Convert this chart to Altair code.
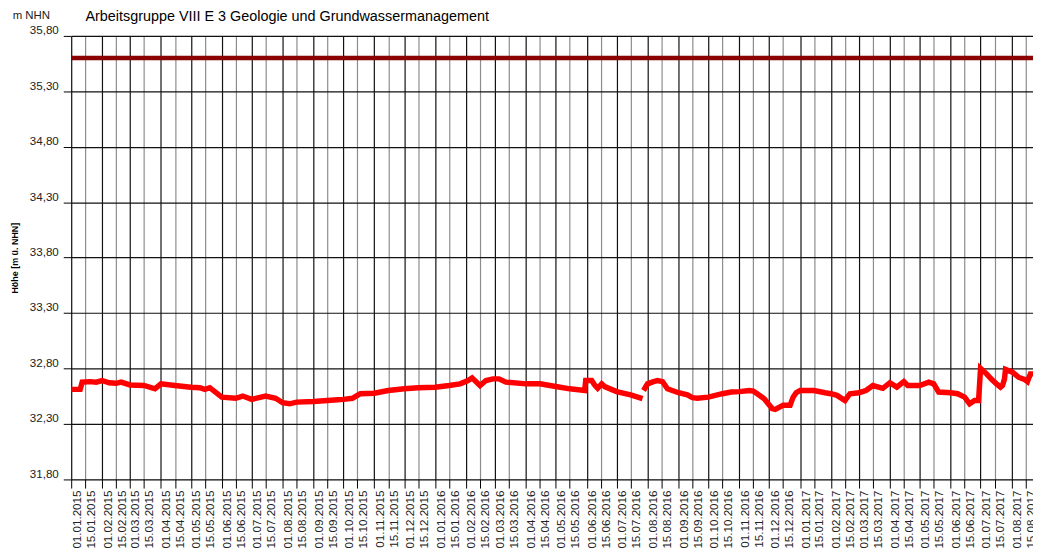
import altair as alt
import pandas as pd

# ---------------- data ----------------
dates_a = ["2015-01-01", "2015-01-10", "2015-01-12", "2015-01-20", "2015-01-26",
           "2015-02-01", "2015-02-08", "2015-02-15", "2015-02-20",
           "2015-03-01", "2015-03-15", "2015-03-26",
           "2015-04-01", "2015-04-15",
           "2015-05-01", "2015-05-10", "2015-05-15", "2015-05-20",
           "2015-06-01", "2015-06-15", "2015-06-22",
           "2015-07-01", "2015-07-15", "2015-07-25",
           "2015-08-01", "2015-08-08", "2015-08-15",
           "2015-09-01", "2015-09-15", "2015-09-25",
           "2015-10-01", "2015-10-10", "2015-10-15", "2015-10-18",
           "2015-11-01", "2015-11-15",
           "2015-12-01", "2015-12-15",
           "2016-01-01", "2016-01-15", "2016-01-26",
           "2016-02-03", "2016-02-07", "2016-02-15", "2016-02-21", "2016-02-28",
           "2016-03-05", "2016-03-12",
           "2016-04-01", "2016-04-15",
           "2016-05-01", "2016-05-15", "2016-05-30", "2016-05-31",
           "2016-06-06", "2016-06-09", "2016-06-12", "2016-06-16", "2016-06-19",
           "2016-07-01", "2016-07-15", "2016-07-27"]
values_a = [32.61, 32.61, 32.675, 32.68, 32.675,
            32.69, 32.67, 32.665, 32.675,
            32.65, 32.645, 32.615,
            32.66, 32.645,
            32.63, 32.625, 32.61, 32.625,
            32.54, 32.53, 32.55,
            32.52, 32.55, 32.53,
            32.49, 32.48, 32.495,
            32.50, 32.51, 32.517,
            32.52, 32.53, 32.556, 32.571,
            32.575, 32.60,
            32.615, 32.624,
            32.63, 32.645, 32.66,
            32.69, 32.714, 32.645, 32.69, 32.705,
            32.705, 32.675,
            32.66, 32.66,
            32.636, 32.615, 32.60, 32.69,
            32.69, 32.65, 32.62, 32.66, 32.635,
            32.59, 32.56, 32.526]

dates_b = ["2016-07-28", "2016-08-01", "2016-08-07", "2016-08-11", "2016-08-16", "2016-08-21",
           "2016-09-01", "2016-09-10", "2016-09-15", "2016-09-20",
           "2016-10-01", "2016-10-15", "2016-10-24",
           "2016-11-01", "2016-11-11", "2016-11-15", "2016-11-19", "2016-11-26",
           "2016-12-04", "2016-12-07", "2016-12-15", "2016-12-22", "2016-12-25", "2016-12-28",
           "2017-01-01", "2017-01-15", "2017-01-26",
           "2017-02-01", "2017-02-07", "2017-02-15", "2017-02-20",
           "2017-03-01", "2017-03-08", "2017-03-15", "2017-03-25",
           "2017-04-01", "2017-04-08", "2017-04-15", "2017-04-19",
           "2017-05-01", "2017-05-10", "2017-05-15", "2017-05-20",
           "2017-06-01", "2017-06-08", "2017-06-15", "2017-06-20", "2017-06-25", "2017-06-29",
           "2017-07-01", "2017-07-07", "2017-07-12", "2017-07-17", "2017-07-21", "2017-07-23",
           "2017-07-25", "2017-07-26",
           "2017-08-02", "2017-08-08", "2017-08-14", "2017-08-17", "2017-08-20", "2017-08-23"]
values_b = [32.60, 32.66, 32.68, 32.69, 32.68, 32.615,
            32.58, 32.56, 32.535, 32.53,
            32.54, 32.571, 32.586,
            32.59, 32.60, 32.595, 32.571, 32.526,
            32.437, 32.43, 32.467, 32.467, 32.54, 32.58,
            32.60, 32.60, 32.58,
            32.571, 32.556, 32.51, 32.571,
            32.58, 32.60, 32.645, 32.62,
            32.67, 32.63, 32.68, 32.645,
            32.645, 32.675, 32.66, 32.586,
            32.58, 32.571, 32.54, 32.48, 32.51, 32.51,
            32.80, 32.75, 32.70, 32.66, 32.63, 32.645,
            32.705, 32.79,
            32.765, 32.72, 32.70, 32.68, 32.75, 32.75]

threshold = [35.60]
y_ticks = [31.8, 32.3, 32.8, 33.3, 33.8, 34.3, 34.8, 35.3, 35.8]
tick_years = [2015, 2016, 2017]
tick_days = [1, 15]
last_tick = "2017-08-15"
x_start = "2015-01-01"
x_end = "2017-08-22T14:00:00"

title_text = "Arbeitsgruppe VIII E 3 Geologie und Grundwassermanagement"
unit_text = "m NHN"
y_title = "Höhe [m ü. NHN]"

# ---------------- build tables ----------------
df = pd.DataFrame({
    "datum": dates_a + dates_b,
    "wert": values_a + values_b,
    "abschnitt": ["a"] * len(dates_a) + ["b"] * len(dates_b),
})
df_thr = pd.DataFrame({"wert": threshold})
df_unit = pd.DataFrame({"t": [unit_text]})
df_title = pd.DataFrame({"t": [title_text]})


def ms(s):
    return int(pd.Timestamp(s, tz="UTC").value // 10**6)


tick_list = [f"{y}-{m:02d}-{d:02d}" for y in tick_years for m in range(1, 13)
             for d in tick_days if f"{y}-{m:02d}-{d:02d}" <= last_tick]
tick_ms = [ms(t) for t in tick_list]

FONT = "Liberation Sans"

x_scale = alt.Scale(type="utc", domain=[ms(x_start), ms(x_end)])
y_scale = alt.Scale(domain=[31.8, 35.8], nice=False, zero=False)

x_axis = alt.Axis(
    values=tick_ms,
    labelExpr="utcFormat(datum.value, '%d.%m.%Y')",
    labelAngle=270, labelAlign="right", labelBaseline="middle",
    labelOffset=5, labelPadding=2, labelFontSize=11.7, labelFont=FONT,
    labelColor="#222222", labelOverlap=False, labelFlush=False, labelBound=False,
    tickSize=9, tickColor="#000000", tickWidth=1,
    grid=True,
    gridColor={"condition": {"test": "utcdate(datum.value) === 1", "value": "#111111"},
               "value": "#8c8c8c"},
    gridWidth=1.2, gridOpacity=1,
    domain=False, title=None,
)

y_axis = alt.Axis(
    values=y_ticks,
    labelExpr="replace(format(datum.value, '.2f'), '.', ',')",
    tickSize=8, tickColor="#000000", tickWidth=1,
    labelPadding=5, labelBaseline="bottom", labelFontSize=11.7, labelFont=FONT,
    labelColor="#222222", labelFlush=False, labelOverlap=False,
    grid=True, gridColor="#111111", gridWidth=1.2, gridOpacity=1,
    domain=False,
    titleFont=FONT, titleFontSize=9, titleFontWeight="bold", titleColor="#000000",
    titleX=-56.7, titleY=223.5, titleAngle=270, titleAlign="center", titleBaseline="middle",
)


def y_enc(field):
    return alt.Y(field, type="quantitative", scale=y_scale, axis=y_axis, title=y_title)


line = alt.Chart(df).mark_line(color="#ff0000", strokeWidth=5.5, clip=True).encode(
    x=alt.X("datum:T", scale=x_scale, axis=x_axis, title=None),
    y=y_enc("wert"),
    detail="abschnitt:N",
)

thr = alt.Chart(df_thr).mark_rule(color="#8b0000", strokeWidth=4.5).encode(
    y=y_enc("wert"),
)

unit = alt.Chart(df_unit).mark_text(
    align="left", baseline="middle", font=FONT, fontSize=11.5, color="#222222"
).encode(text="t:N", x=alt.value(-59), y=alt.value(-20))

heading = alt.Chart(df_title).mark_text(
    align="left", baseline="middle", font=FONT, fontSize=14.5, color="#000000"
).encode(text="t:N", x=alt.value(14.3), y=alt.value(-19))

chart = alt.layer(thr, line, unit, heading).properties(
    width=969.3,
    height=446.7,
    padding={"left": 63.7, "top": 26, "right": 0, "bottom": 72},
    autosize=alt.AutoSizeParams(type="none"),
).configure_view(stroke=None).configure(background="white")

chart.save("out.html", embed_options={"renderer": "svg", "actions": False})
